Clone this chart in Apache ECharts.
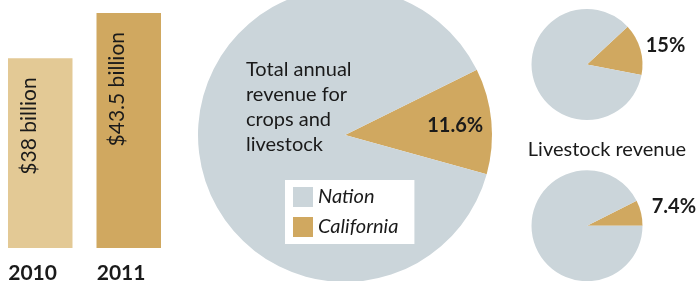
<!DOCTYPE html>
<html><head><meta charset="utf-8">
<script src="https://cdn.jsdelivr.net/npm/echarts@6/dist/echarts.min.js"></script>
<style>html,body{margin:0;padding:0;background:#fff}#c{width:697px;height:281px}</style>
</head><body><div id="c"></div>
<script>
// Data
var years = ['2010', '2011'];
var revenueBillion = [38, 43.5];
var sliceNames = ['California', 'Nation'];
var totalShare = [11.6, 88.4];
var cropShare = [15, 85];
var livestockShare = [7.4, 92.6];
var pieText = 'Total annual\nrevenue for\ncrops and\nlivestock';
var livestockTitle = 'Livestock revenue';

var GOLD = '#D0A860', LIGHTGOLD = '#E3C995', GRAY = '#CBD5DA', INK = '#1a1a1a';
var FONT = 'Lato, "Noto Sans", sans-serif';

function pieData(vals) {
  return sliceNames.map(function (n, i) { return { name: n, value: vals[i] }; });
}
function pieSeries(vals, center, radius, startAngle, dx, dy) {
  return {
    type: 'pie', silent: true, center: center, radius: radius, startAngle: startAngle,
    clockwise: true, avoidLabelOverlap: false, animation: false, z: 2,
    data: pieData(vals),
    itemStyle: { borderWidth: 0 },
    label: {
      show: true, position: 'inside', color: INK, fontFamily: FONT, fontWeight: 'bold', fontSize: 20,
      formatter: function (p) { return p.dataIndex === 0 ? p.value + '%' : ''; }
    },
    labelLine: { show: false },
    labelLayout: function (p) { return p.dataIndex === 0 ? { dx: dx, dy: dy } : {}; },
    emphasis: { disabled: true }
  };
}

var chart = echarts.init(document.getElementById('c'));
chart.setOption({
  animation: false,
  color: [GOLD, GRAY],
  grid: { left: -4, width: 177, top: 13, bottom: 33, containLabel: false, outerBoundsMode: 'none' },
  xAxis: {
    type: 'category', data: years,
    axisLine: { show: false }, axisTick: { show: false },
    axisLabel: {
      margin: 15,
      formatter: function (v) { return '{y|' + v + '}'; },
      rich: { y: { width: 64, align: 'left', fontSize: 21, fontWeight: 'bold', color: INK, fontFamily: FONT } }
    }
  },
  yAxis: { type: 'value', min: 15, max: 43.5, show: false },
  legend: {
    orient: 'vertical', left: 285, top: 180, z: 20,
    data: ['Nation', 'California'],
    backgroundColor: '#fff', padding: [7, 16, 7, 8],
    itemWidth: 20, itemHeight: 20, itemGap: 10, icon: 'rect',
    textStyle: { fontFamily: FONT, fontStyle: 'italic', fontSize: 20, color: INK, padding: [0, 0, 0, 0] },
    selectedMode: false
  },
  series: [
    {
      type: 'bar', silent: true, barWidth: 64.5,
      data: revenueBillion.map(function (v, i) {
        return { value: v, itemStyle: { color: i === 0 ? LIGHTGOLD : GOLD } };
      }),
      label: {
        show: true, position: [21, 19], rotate: 90, align: 'right', verticalAlign: 'middle',
        fontFamily: FONT, fontSize: 21, color: INK,
        formatter: function (p) { return '$' + p.value + ' billion'; }
      }
    },
    pieSeries(totalShare, [345, 135], 147, 26.3, 34, -2),
    pieSeries(cropShare, [587, 64.5], 55.5, 43, 49, -10),
    pieSeries(livestockShare, [587, 225.7], 55.5, 26.64, 57, -12.5)
  ],
  graphic: [
    { type: 'text', x: 246, y: 57.5, z: 100, zlevel: 0, silent: true,
      style: { text: pieText, fill: INK, font: '20px ' + FONT, lineHeight: 25, align: 'left', verticalAlign: 'top' } },
    { type: 'text', x: 607, y: 150, z: 100, silent: true,
      style: { text: livestockTitle, fill: INK, font: '20px ' + FONT, align: 'center', verticalAlign: 'middle' } }
  ]
});
</script></body></html>
